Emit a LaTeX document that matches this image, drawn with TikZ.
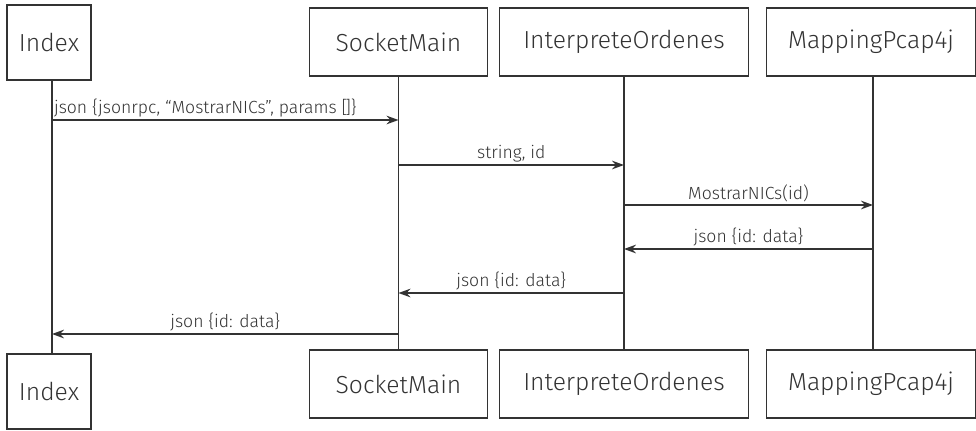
\documentclass[tikz,border=0pt]{standalone}
\usepackage{fontspec}
\setmainfont{Fira Sans}[UprightFont=* Light]
\usetikzlibrary{arrows.meta}
\definecolor{linea}{HTML}{333333}
\tikzset{
  caja/.style={draw=linea, line width=1pt, text=linea, inner sep=0pt,
    font=\fontsize{18.5}{21}\selectfont},
  vida/.style={draw=linea, line width=1pt},
  msg/.style={draw=linea, line width=1pt, -{Stealth[length=9pt,width=6.5pt]}},
  etiq/.style={text=linea, inner sep=1pt, font=\fontsize{13.2}{15}\selectfont}
}
\begin{document}
\begin{tikzpicture}[x=0.75pt,y=-0.75pt]
    \useasboundingbox (0,0) rectangle (976,430);

    % Cajas superiores
    \node[caja, minimum width=63pt, minimum height=56.25pt] (idxT) at (49,42.5) {Index};
    \node[caja, minimum width=133.5pt, minimum height=51pt] (sockT) at (398.5,42) {SocketMain};
    \node[caja, minimum width=186.75pt, minimum height=51pt] (intT) at (624,42) {InterpreteOrdenes};
    \node[caja, minimum width=156.75pt, minimum height=51pt] (mapT) at (871,42) {MappingPcap4j};

    % Cajas inferiores
    \node[caja, minimum width=63pt, minimum height=56.25pt] (idxB) at (49,391.5) {Index};
    \node[caja, minimum width=133.5pt, minimum height=51pt] (sockB) at (398.5,384) {SocketMain};
    \node[caja, minimum width=186.75pt, minimum height=51pt] (intB) at (624,384) {InterpreteOrdenes};
    \node[caja, minimum width=156.75pt, minimum height=51pt] (mapB) at (871,384) {MappingPcap4j};

    % Lineas de vida
    \draw[vida] ([xshift=2.25pt]idxT.south) -- ([xshift=2.25pt]idxB.north);
    \draw[vida] (sockT.south) -- (sockB.north);
    \draw[vida] (intT.south) -- (intB.north);
    \draw[vida] ([xshift=1.5pt]mapT.south) -- ([xshift=1.5pt]mapB.north);

    % Alturas de los mensajes
    \coordinate (y1) at (0,120);
    \coordinate (y2) at (0,165);
    \coordinate (y3) at (0,205);
    \coordinate (y4) at (0,249);
    \coordinate (y5) at (0,293);
    \coordinate (y6) at (0,334);

    % Mensajes
    \draw[msg] ([xshift=2.25pt]idxT.south |- y1) -- node[etiq, pos=0, anchor=south west, yshift=1pt]
      {json \{jsonrpc, “MostrarNICs”, params [\kern-1.5pt]\}} (sockT.south |- y1);
    \draw[msg] (sockT.south |- y2) -- node[etiq, above=1pt] {string, id} (intT.south |- y2);
    \draw[msg] (intT.south |- y3) -- node[etiq, above=1pt] {MostrarNICs(id)} ([xshift=1.5pt]mapT.south |- y3);
    \draw[msg] ([xshift=1.5pt]mapT.south |- y4) -- node[etiq, above=1pt] {json \{id: data\}} (intT.south |- y4);
    \draw[msg] (intT.south |- y5) -- node[etiq, above=1pt] {json \{id: data\}} (sockT.south |- y5);
    \draw[msg] (sockT.south |- y6) -- node[etiq, above=1pt] {json \{id: data\}} ([xshift=2.25pt]idxT.south |- y6);
\end{tikzpicture}
\end{document}
